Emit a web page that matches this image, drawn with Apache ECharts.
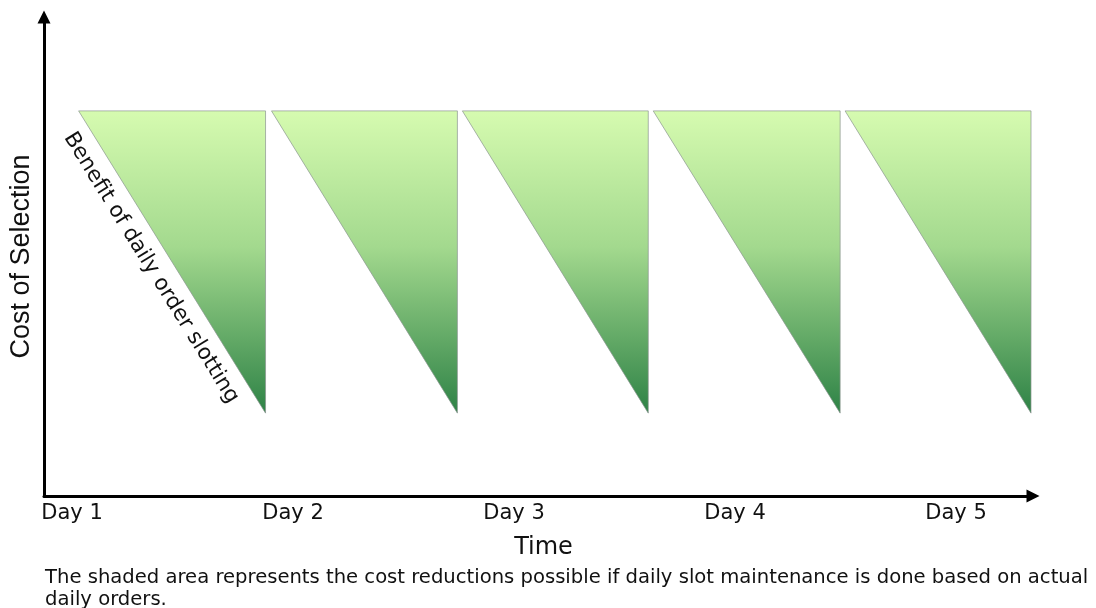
<!DOCTYPE html>
<html>
<head>
<meta charset="utf-8">
<script src="https://cdn.jsdelivr.net/npm/echarts@6/dist/echarts.min.js"></script>
<style>html,body{margin:0;padding:0;background:#fff}#c{width:1096px;height:608px}</style>
</head>
<body>
<div id="c"></div>
<script>
// Data
const days = ['Day 1', 'Day 2', 'Day 3', 'Day 4', 'Day 5'];
const triStart = [3.5, 23.0, 42.3, 61.6, 81.0];
const triEnd = [22.4, 41.8, 61.1, 80.5, 99.8];
const triTop = [80.4, 80.4, 80.4, 80.4, 80.4];
const triBottom = [17.3, 17.3, 17.3, 17.3, 17.3];
const benefitLabel = 'Benefit of daily order slotting';
const yTitle = 'Cost of Selection';
const xTitle = 'Time';
const footnote = 'The shaded area represents the cost reductions possible if daily slot maintenance is done based on actual\ndaily orders.';

const FONT = '"DejaVu Sans", "Noto Sans", sans-serif';
const triData = days.map((d, i) => [triStart[i], triEnd[i], triTop[i], triBottom[i]]);

const chart = echarts.init(document.getElementById('c'));
chart.setOption({
  backgroundColor: '#fff',
  animation: false,
  title: {
    text: footnote,
    left: 40, top: 562,
    textStyle: { fontFamily: FONT, fontSize: 19.6, fontWeight: 'normal', color: '#111', lineHeight: 22 }
  },
  grid: [
    { left: 40, right: 63, top: 17, bottom: 112 },
    { left: 72, right: 140, top: 17, bottom: 112 }
  ],
  xAxis: [
    {
      type: 'value', gridIndex: 0, min: 0, max: 100,
      name: xTitle, nameLocation: 'middle', nameGap: 40, nameTextStyle: { fontFamily: FONT, fontSize: 24, color: '#111', padding: [0, 0, 0, 10] },
      axisLine: { show: true, symbol: ['none', 'triangle'], symbolSize: [13, 13], lineStyle: { color: '#000', width: 3 } },
      axisTick: { show: false }, axisLabel: { show: false }, splitLine: { show: false }
    },
    {
      type: 'category', gridIndex: 1, data: days, boundaryGap: false,
      axisLine: { show: false }, axisTick: { show: false }, splitLine: { show: false },
      axisLabel: { show: true, margin: 7, fontFamily: FONT, fontSize: 21, color: '#111' }
    }
  ],
  yAxis: [
    {
      type: 'value', gridIndex: 0, min: 0, max: 100,
      name: yTitle, nameLocation: 'middle', nameRotate: 90, nameGap: 9,
      nameTextStyle: { fontFamily: '"Liberation Sans", Arial, sans-serif', fontSize: 27, color: '#111' },
      axisLine: { show: true, symbol: ['none', 'triangle'], symbolSize: [13, 13], lineStyle: { color: '#000', width: 3 } },
      axisTick: { show: false }, axisLabel: { show: false }, splitLine: { show: false }
    },
    {
      type: 'value', gridIndex: 1, show: false, min: 0, max: 100
    }
  ],
  series: [
    {
      type: 'custom',
      xAxisIndex: 0, yAxisIndex: 0,
      data: triData,
      encode: { x: [0, 1], y: [2, 3] },
      renderItem: function (params, api) {
        const x0 = api.value(0), x1 = api.value(1), yt = api.value(2), yb = api.value(3);
        const pTL = api.coord([x0, yt]);
        const pTR = api.coord([x1, yt]);
        const pBR = api.coord([x1, yb]);
        const children = [{
          type: 'polygon',
          shape: { points: [pTL, pTR, pBR] },
          style: {
            fill: new echarts.graphic.LinearGradient(0, 0, 0, 1, [
              { offset: 0, color: '#d6fbb0' },
              { offset: 0.45, color: '#a3d98e' },
              { offset: 1, color: '#2e8246' }
            ]),
            stroke: 'rgba(140,150,145,0.7)',
            lineWidth: 1
          }
        }];
        if (params.dataIndex === 0) {
          const dx = pBR[0] - pTL[0], dy = pBR[1] - pTL[1];
          const len = Math.sqrt(dx * dx + dy * dy);
          const ang = Math.atan2(dy, dx);
          const mx = (pTL[0] + pBR[0]) / 2, my = (pTL[1] + pBR[1]) / 2;
          const off = 21, along = -6;
          const nx = -dy / len, ny = dx / len;
          const ux = dx / len, uy = dy / len;
          children.push({
            type: 'text',
            x: mx + nx * off + ux * along, y: my + ny * off + uy * along,
            rotation: -ang,
            style: {
              text: benefitLabel,
              x: 0, y: 0,
              align: 'center', verticalAlign: 'middle',
              fontFamily: FONT, fontSize: 21.5, fill: '#111'
            }
          });
        }
        return { type: 'group', children: children };
      }
    }
  ]
});
</script>
</body>
</html>
